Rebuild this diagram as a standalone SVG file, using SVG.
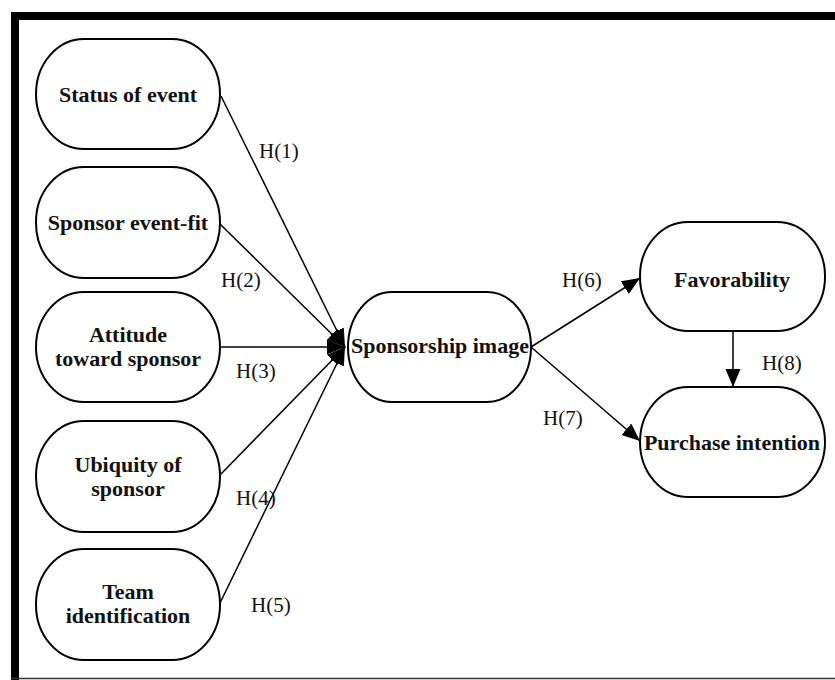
<svg xmlns="http://www.w3.org/2000/svg" width="835" height="680" viewBox="0 0 835 680">
<style>
.node rect{fill:#fff;stroke:#000;stroke-width:2}
.node text{font-family:"Liberation Serif","Times New Roman",serif;font-weight:bold;font-size:22px;text-anchor:middle;fill:#111}
.lbl{font-family:"Liberation Serif","Times New Roman",serif;font-size:21px;fill:#111}
.conn line{stroke:#000;stroke-width:1.5;marker-end:url(#ah)}
</style>
<defs>
<marker id="ah" markerUnits="userSpaceOnUse" markerWidth="20" markerHeight="16" refX="18" refY="7.5" orient="auto">
<path d="M0,0 L18,7.5 L0,15 z" fill="#000"/>
</marker>
</defs>
<rect x="0" y="0" width="835" height="680" fill="#fff"/>
<g id="frame">
<rect x="11" y="12" width="824" height="8" fill="#000"/>
<rect x="11" y="12" width="8" height="668" fill="#000"/>
<line x1="11" y1="678.5" x2="835" y2="678.5" stroke="#333" stroke-width="1.5"/>
</g>
<g class="conn" id="connectors">
<line x1="221" y1="96" x2="345" y2="347"/>
<line x1="220" y1="224" x2="345" y2="347"/>
<line x1="220" y1="347" x2="345" y2="347"/>
<line x1="220" y1="475" x2="345" y2="347"/>
<line x1="220" y1="603" x2="345" y2="347"/>
<line x1="531" y1="347" x2="640" y2="278"/>
<line x1="531" y1="347" x2="640" y2="441"/>
<line x1="733" y1="331" x2="733" y2="387"/>
</g>
<g id="labels">
<text class="lbl" x="259" y="158">H(1)</text>
<text class="lbl" x="221" y="287">H(2)</text>
<text class="lbl" x="236" y="378">H(3)</text>
<text class="lbl" x="236" y="505">H(4)</text>
<text class="lbl" x="251" y="612">H(5)</text>
<text class="lbl" x="562" y="287">H(6)</text>
<text class="lbl" x="543" y="425">H(7)</text>
<text class="lbl" x="762" y="370">H(8)</text>
</g>
<g class="node" id="status">
<rect x="36" y="39" width="184" height="110" rx="48" ry="55"/>
<text x="128" y="102">Status of event</text>
</g>
<g class="node" id="fit">
<rect x="36" y="167" width="184" height="111" rx="48" ry="55"/>
<text x="128" y="230">Sponsor event-fit</text>
</g>
<g class="node" id="attitude">
<rect x="36" y="292" width="184" height="110" rx="48" ry="55"/>
<text x="128" y="342">Attitude</text>
<text x="128" y="366">toward sponsor</text>
</g>
<g class="node" id="ubiquity">
<rect x="36" y="421" width="184" height="111" rx="48" ry="55"/>
<text x="128" y="472">Ubiquity of</text>
<text x="128" y="496">sponsor</text>
</g>
<g class="node" id="team">
<rect x="36" y="549" width="184" height="111" rx="48" ry="55"/>
<text x="128" y="599">Team</text>
<text x="128" y="623">identification</text>
</g>
<g class="node" id="image">
<rect x="348" y="292" width="183" height="110" rx="44" ry="55"/>
<text x="440" y="353">Sponsorship image</text>
</g>
<g class="node" id="favorability">
<rect x="640" y="222" width="185" height="109" rx="48" ry="54"/>
<text x="732" y="287">Favorability</text>
</g>
<g class="node" id="purchase">
<rect x="640" y="387" width="185" height="110" rx="48" ry="55"/>
<text x="732" y="450">Purchase intention</text>
</g>
</svg>
